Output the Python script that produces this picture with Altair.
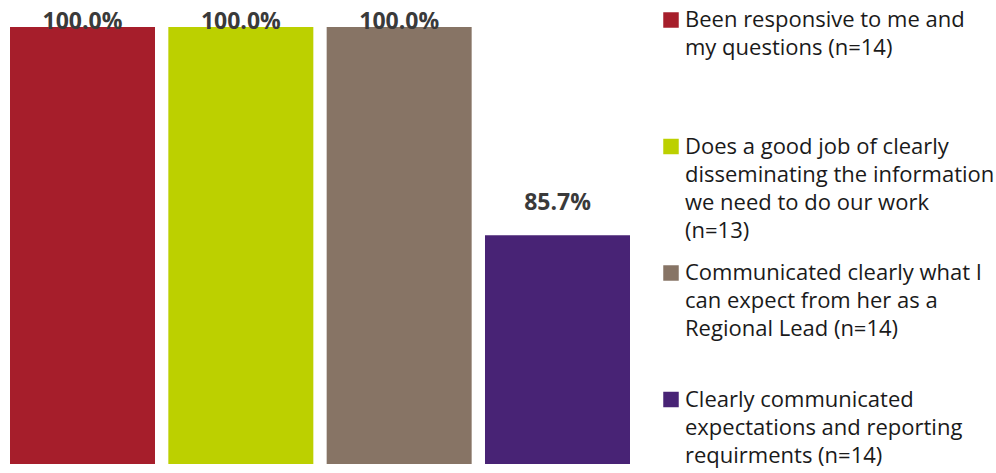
import altair as alt
import pandas as pd

items = [
    "Been responsive to me and my questions (n=14)",
    "Does a good job of clearly disseminating the information we need to do our work (n=13)",
    "Communicated clearly what I can expect from her as a Regional Lead (n=14)",
    "Clearly communicated expectations and reporting requirments (n=14)",
]
legend_lines = [
    "Been responsive to me and\nmy questions (n=14)",
    "Does a good job of clearly\ndisseminating the information\nwe need to do our work\n(n=13)",
    "Communicated clearly what I\ncan expect from her as a\nRegional Lead (n=14)",
    "Clearly communicated\nexpectations and reporting\nrequirments (n=14)",
]
values = [100.0, 100.0, 100.0, 85.7]
colors = ["#A61E2B", "#BCD000", "#877465", "#482375"]

df = pd.DataFrame({"item": items, "value": values, "legend": legend_lines})
base = alt.Chart(df)

color = alt.Color("item:N", scale=alt.Scale(domain=items, range=colors), legend=None)
x = alt.X("item:N", sort=items, axis=None,
          scale=alt.Scale(range=[10, 630], paddingInner=0.0842, paddingOuter=0))
yscale = alt.Scale(domain=[70, 100], range=[464, 27], clamp=True)

bars = base.mark_bar().encode(
    x=x, y=alt.Y("value:Q", axis=None, scale=yscale), color=color
)

labels = base.transform_calculate(
    label_y="datum.value + 1.85",
    txt="format(datum.value, '.1f') + '%'",
).mark_text(
    font="Open Sans", fontWeight="bold", fontSize=23, color="#3a3a3a",
    baseline="alphabetic", dy=2
).encode(
    x=x, y=alt.Y("label_y:Q", axis=None, scale=yscale), text="txt:N"
)

ly = alt.Y("item:N", sort=items, axis=None,
           scale=alt.Scale(type="point", range=[20, 399.5], padding=0))

squares = base.mark_square(size=240, opacity=1).encode(
    x=alt.value(671), y=ly, color=color
)
ltext = base.mark_text(
    align="left", baseline="alphabetic", dy=7, font="Open Sans", fontSize=22,
    lineHeight=28, color="#1a1a1a", lineBreak="\n"
).encode(x=alt.value(685), y=ly, text="legend:N")

chart = alt.layer(bars, labels, squares, ltext).resolve_scale(
    y="independent"
).properties(
    width=996, height=473, padding=0,
    autosize=alt.AutoSizeParams(type="none")
).configure_view(stroke=None)

chart.save("out.html", embed_options={"renderer": "svg", "actions": False})
